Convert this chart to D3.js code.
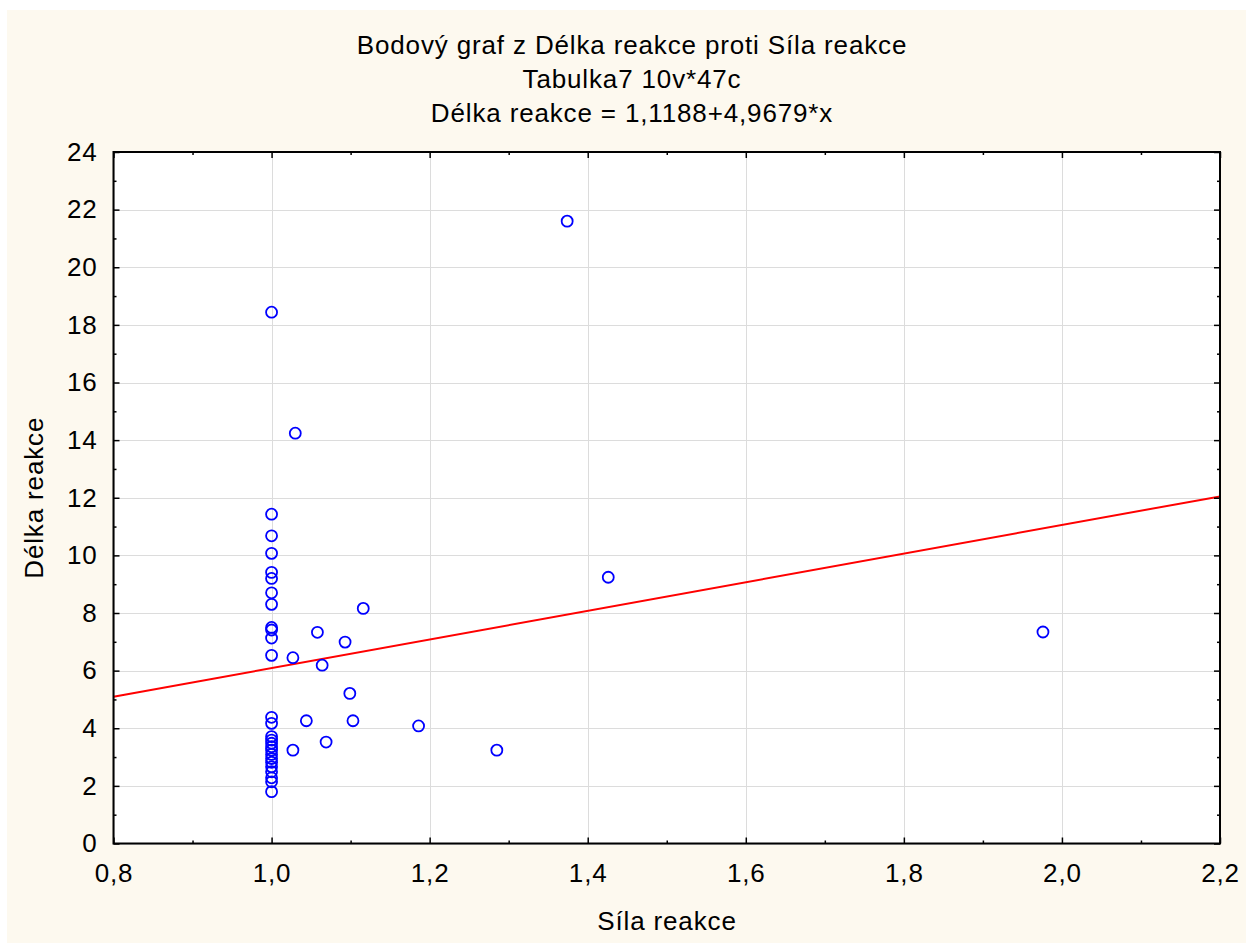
<!DOCTYPE html>
<html>
<head>
<meta charset="utf-8">
<script src="https://cdn.jsdelivr.net/npm/d3@7"></script>
<style>
  html, body { margin: 0; padding: 0; background: #ffffff; }
  svg { display: block; }
  text { font-family: "Liberation Sans", Arial, sans-serif; fill: #000; letter-spacing: 0.85px; }
</style>
</head>
<body>
<svg id="chart" width="1246" height="943"></svg>
<script>
// Síla reakce (x) and Délka reakce (y) for each case
const silaReakce = [
  1.000, 1.000, 1.000, 1.000, 1.000, 1.000, 1.000, 1.000, 1.000, 1.000,
  1.000, 1.000, 1.000, 1.000, 1.000, 1.000, 1.000, 1.000, 1.000, 1.000,
  1.000, 1.000, 1.000, 1.000, 1.000, 1.000, 1.000,
  1.027, 1.058, 1.064, 1.093, 1.116, 1.027, 1.044, 1.069, 1.103, 1.099,
  1.030, 1.374, 1.426, 1.186, 1.285, 1.976
];
const delkaReakce = [
  18.44, 11.43, 10.68, 10.07, 9.41, 9.20, 8.70, 8.30, 7.50, 7.41,
  7.13, 6.53, 4.38, 4.17, 3.71, 3.59, 3.48, 3.36, 3.24, 3.09,
  2.95, 2.82, 2.66, 2.49, 2.28, 2.14, 1.80,
  6.45, 7.33, 6.19, 6.99, 8.16, 3.24, 4.26, 3.52, 4.26, 5.21,
  14.24, 21.60, 9.24, 4.08, 3.24, 7.34
];

// Fitted line: Délka reakce = 1,1188 + 4,9679*x
const intercept = 1.1188;
const slope = 4.9679;

const xTicks = [0.8, 1.0, 1.2, 1.4, 1.6, 1.8, 2.0, 2.2];
const yTicks = [0, 2, 4, 6, 8, 10, 12, 14, 16, 18, 20, 22, 24];
const xMinor = [0.9, 1.1, 1.3, 1.5, 1.7, 1.9, 2.1];
const yMinor = [1, 3, 5, 7, 9, 11, 13, 15, 17, 19, 21, 23];

const titleLines = [
  "Bodový graf z Délka reakce proti Síla reakce",
  "Tabulka7 10v*47c",
  "Délka reakce = 1,1188+4,9679*x"
];
const xLabel = "Síla reakce";
const yLabel = "Délka reakce";

const svg = d3.select("#chart");
const W = 1246, H = 943;
const FS = 26;
const plot = { left: 113.5, right: 1220, top: 152, bottom: 843.5 };

// page background
svg.append("rect").attr("x", 7).attr("y", 10).attr("width", W - 7).attr("height", H - 10)
  .attr("fill", "#fdf9ef");

const x = d3.scaleLinear().domain([0.8, 2.2]).range([plot.left, plot.right]);
const y = d3.scaleLinear().domain([0, 24]).range([plot.bottom, plot.top]);
const fmt = v => d3.format(".1f")(v).replace(".", ",");

// plot background
svg.append("rect")
  .attr("x", plot.left).attr("y", plot.top)
  .attr("width", plot.right - plot.left).attr("height", plot.bottom - plot.top)
  .attr("fill", "#ffffff");

// grid
const grid = svg.append("g").attr("stroke", "#dcdcdc").attr("stroke-width", 1);
xTicks.forEach(t => grid.append("line")
  .attr("x1", Math.round(x(t)) + 0.5).attr("x2", Math.round(x(t)) + 0.5)
  .attr("y1", plot.top).attr("y2", plot.bottom));
yTicks.forEach(t => grid.append("line")
  .attr("x1", plot.left).attr("x2", plot.right)
  .attr("y1", Math.round(y(t)) + 0.5).attr("y2", Math.round(y(t)) + 0.5));

// clip for data
svg.append("clipPath").attr("id", "plotClip").append("rect")
  .attr("x", plot.left).attr("y", plot.top)
  .attr("width", plot.right - plot.left).attr("height", plot.bottom - plot.top);

// regression line
svg.append("line")
  .attr("clip-path", "url(#plotClip)")
  .attr("x1", x(0.8)).attr("y1", y(intercept + slope * 0.8))
  .attr("x2", x(2.2)).attr("y2", y(intercept + slope * 2.2))
  .attr("stroke", "#ff0000").attr("stroke-width", 2);

// points
svg.append("g").selectAll("circle")
  .data(silaReakce.map((v, i) => [v, delkaReakce[i]]))
  .join("circle")
  .attr("cx", d => x(d[0])).attr("cy", d => y(d[1]))
  .attr("r", 5.5)
  .attr("fill", "none").attr("stroke", "#0000ff").attr("stroke-width", 1.8);

// axes: ticks inward on all four sides
const major = 6, minor = 3;
const xB = d3.axisBottom(x).tickValues(xTicks).tickSize(-major).tickFormat(fmt).tickPadding(20);
const xT = d3.axisTop(x).tickValues(xTicks).tickSize(-major).tickFormat("");
const yL = d3.axisLeft(y).tickValues(yTicks).tickSize(-major).tickFormat(d3.format("d")).tickPadding(16);
const yR = d3.axisRight(y).tickValues(yTicks).tickSize(-major).tickFormat("");
const xBm = d3.axisBottom(x).tickValues(xMinor).tickSize(-minor).tickFormat("");
const xTm = d3.axisTop(x).tickValues(xMinor).tickSize(-minor).tickFormat("");
const yLm = d3.axisLeft(y).tickValues(yMinor).tickSize(-minor).tickFormat("");
const yRm = d3.axisRight(y).tickValues(yMinor).tickSize(-minor).tickFormat("");

function styleAxis(g) {
  g.select(".domain").remove();
  g.selectAll(".tick line").attr("stroke", "#000").attr("stroke-width", 1.5);
  g.selectAll(".tick text").attr("font-size", FS)
    .attr("font-family", "'Liberation Sans', Arial, sans-serif").attr("fill", "#000");
}
svg.append("g").attr("transform", `translate(0,${plot.bottom})`).call(xB).call(styleAxis);
svg.append("g").attr("transform", `translate(0,${plot.top})`).call(xT).call(styleAxis);
svg.append("g").attr("transform", `translate(${plot.left},0)`).call(yL).call(styleAxis);
svg.append("g").attr("transform", `translate(${plot.right},0)`).call(yR).call(styleAxis);
svg.append("g").attr("transform", `translate(0,${plot.bottom})`).call(xBm).call(styleAxis);
svg.append("g").attr("transform", `translate(0,${plot.top})`).call(xTm).call(styleAxis);
svg.append("g").attr("transform", `translate(${plot.left},0)`).call(yLm).call(styleAxis);
svg.append("g").attr("transform", `translate(${plot.right},0)`).call(yRm).call(styleAxis);

// frame
svg.append("rect")
  .attr("x", plot.left).attr("y", plot.top)
  .attr("width", plot.right - plot.left).attr("height", plot.bottom - plot.top)
  .attr("fill", "none").attr("stroke", "#000").attr("stroke-width", 2);

// titles
titleLines.forEach((t, i) => svg.append("text")
  .attr("x", 632).attr("y", 54 + i * 34)
  .attr("text-anchor", "middle").attr("font-size", FS).text(t));

svg.append("text").attr("x", 667).attr("y", 930)
  .attr("text-anchor", "middle").attr("font-size", FS).text(xLabel);

svg.append("text")
  .attr("transform", `translate(43,${(plot.top + plot.bottom) / 2}) rotate(-90)`)
  .attr("text-anchor", "middle").attr("font-size", FS).text(yLabel);
</script>
</body>
</html>
